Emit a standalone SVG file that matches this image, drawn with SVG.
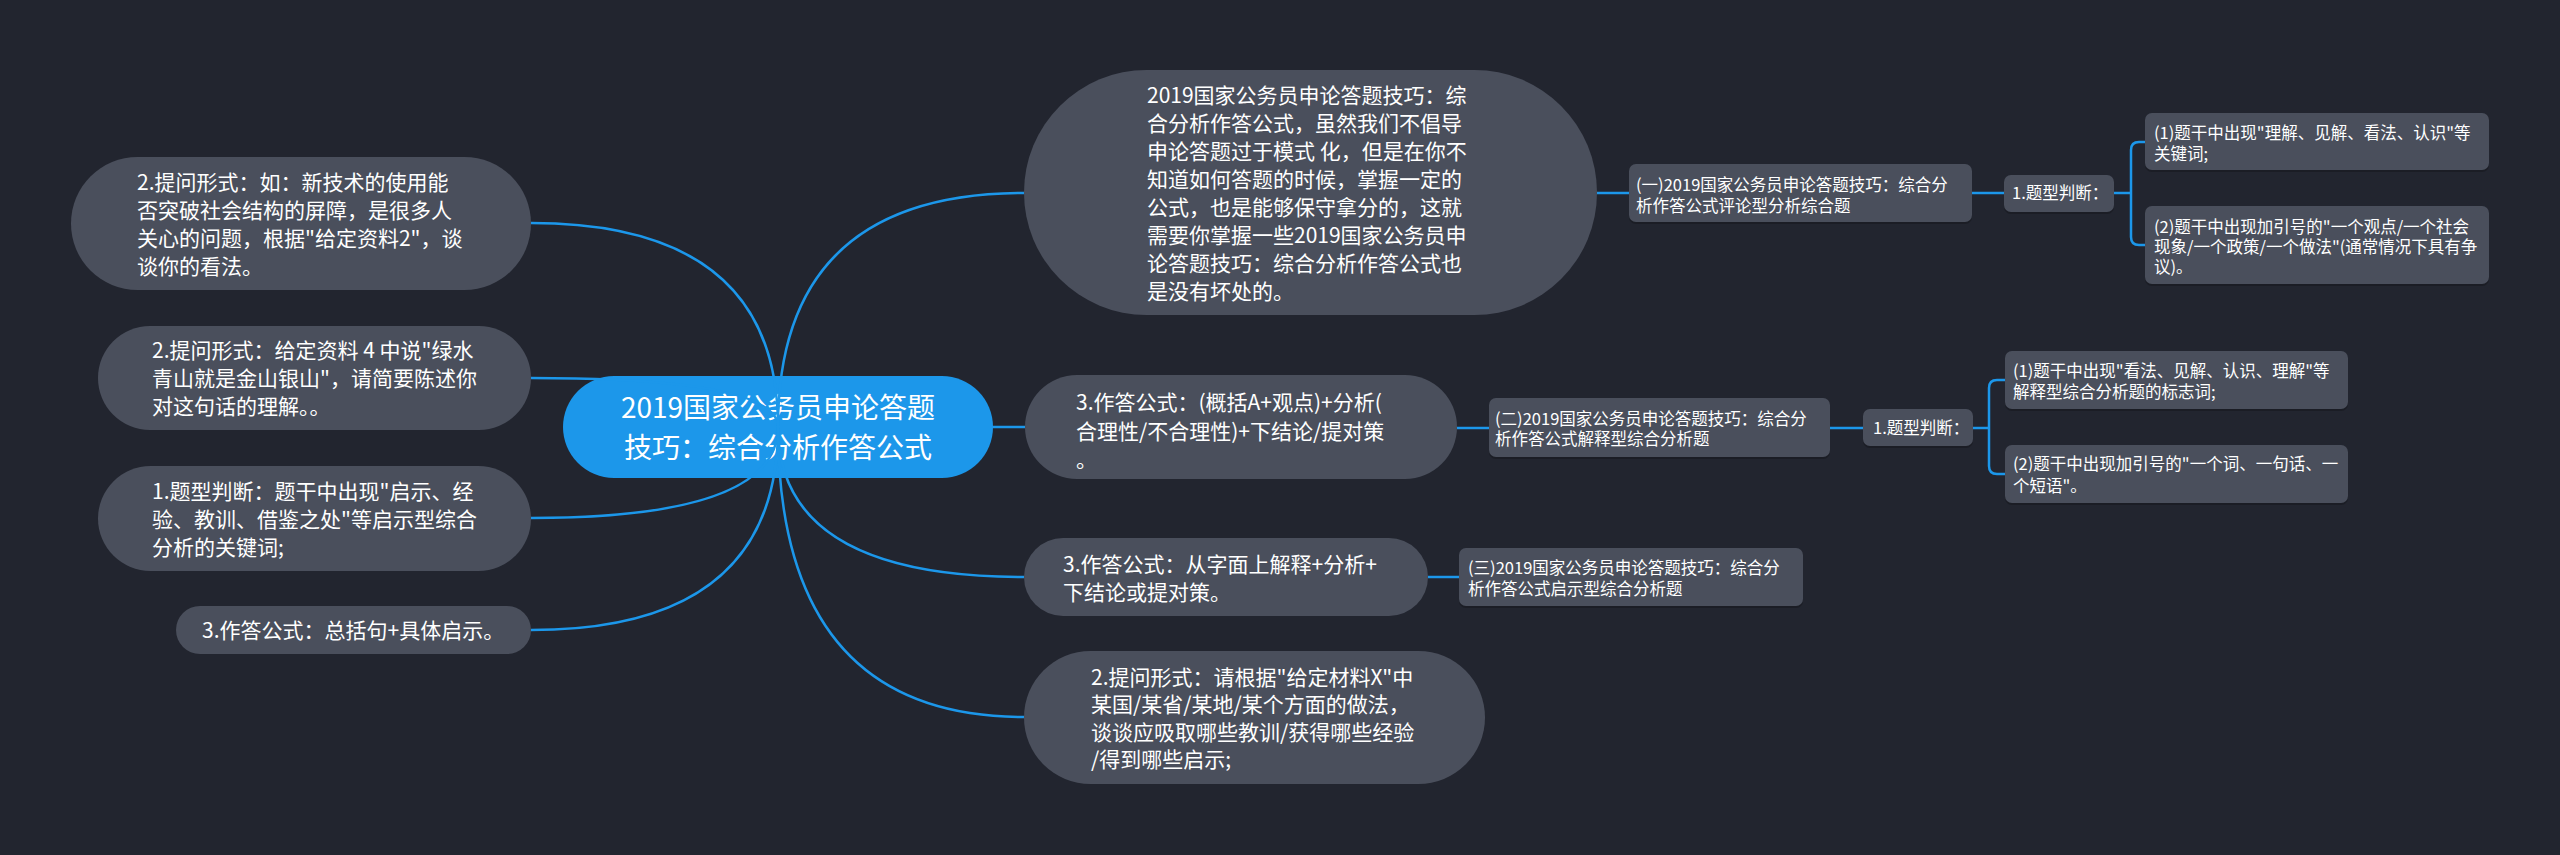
<svg xmlns="http://www.w3.org/2000/svg" width="2560" height="855" viewBox="0 0 2560 855">
<style>
.bg{fill:#22252f}
.node{fill:#4a4f5c}
.shadow{fill:#1b1d25}
.root{fill:#1c97ea}
.t{font-family:"Noto Sans CJK SC","Noto Sans",sans-serif;fill:#ffffff}
.t21{font-size:21px}
.t28{font-size:28px}
.t16{font-size:16.5px}
.link{fill:none;stroke:#1c97ea;stroke-width:2.5}
</style>
<rect class="bg" x="0" y="0" width="2560" height="855"/>

<g id="root">
<rect class="root" x="563" y="376" width="430" height="102" rx="51"/>
<text class="t t28" x="778" text-anchor="middle"><tspan x="778" y="418">2019国家公务员申论答题</tspan><tspan x="778" y="458">技巧：综合分析作答公式</tspan></text>
</g>

<g id="connectors">
<path class="link" d="M778 427 Q778 223 531 223"/>
<path class="link" d="M778 427 Q778 378 531 378"/>
<path class="link" d="M778 427 Q778 518 531 518"/>
<path class="link" d="M778 427 Q778 630 531 630"/>
<path class="link" d="M778 427 Q778 193 1024 193"/>
<path class="link" d="M778 427 Q900 427 1025 427"/>
<path class="link" d="M778 427 Q778 577 1024 577"/>
<path class="link" d="M778 427 Q778 717 1024 717"/>
<path class="link" d="M1597 193 L1629 193"/>
<path class="link" d="M1972 193 L2004 193"/>
<path class="link" d="M2114 193 L2131 193"/>
<path class="link" d="M2145 142 L2139 142 Q2131 142 2131 150 L2131 237 Q2131 245 2139 245 L2145 245"/>
<path class="link" d="M1457 428 L1489 428"/>
<path class="link" d="M1830 428 L1863 428"/>
<path class="link" d="M1973 428 L1989 428"/>
<path class="link" d="M2005 380 L1997 380 Q1989 380 1989 388 L1989 466 Q1989 474 1997 474 L2005 474"/>
<path class="link" d="M1428 577 L1459 577"/>
</g>

<g id="L1">
<rect class="node" x="71" y="157" width="460" height="133" rx="66.5"/>
<text class="t t21"><tspan x="137" y="189.5">2.提问形式：如：新技术的使用能</tspan><tspan x="137" y="217.5">否突破社会结构的屏障，是很多人</tspan><tspan x="137" y="245.5">关心的问题，根据"给定资料2"，谈</tspan><tspan x="137" y="273.5">谈你的看法。</tspan></text>
</g>
<g id="L2">
<rect class="node" x="98" y="326" width="433" height="104" rx="52"/>
<text class="t t21"><tspan x="152" y="357.5">2.提问形式：给定资料 4 中说"绿水</tspan><tspan x="152" y="385.5">青山就是金山银山"，请简要陈述你</tspan><tspan x="152" y="413.5">对这句话的理解。。</tspan></text>
</g>
<g id="L3">
<rect class="node" x="98" y="466" width="433" height="105" rx="52.5"/>
<text class="t t21"><tspan x="152" y="498.5">1.题型判断：题干中出现"启示、经</tspan><tspan x="152" y="526.5">验、教训、借鉴之处"等启示型综合</tspan><tspan x="152" y="554.5">分析的关键词;</tspan></text>
</g>
<g id="L4">
<rect class="node" x="176" y="606" width="355" height="48" rx="24"/>
<text class="t t21"><tspan x="202" y="637.5">3.作答公式：总括句+具体启示。</tspan></text>
</g>

<g id="R1">
<rect class="node" x="1024" y="70" width="573" height="245" rx="122.5"/>
<text class="t t21"><tspan x="1147" y="102.5">2019国家公务员申论答题技巧：综</tspan><tspan x="1147" y="130.5">合分析作答公式，虽然我们不倡导</tspan><tspan x="1147" y="158.5">申论答题过于模式 化，但是在你不</tspan><tspan x="1147" y="186.5">知道如何答题的时候，掌握一定的</tspan><tspan x="1147" y="214.5">公式，也是能够保守拿分的，这就</tspan><tspan x="1147" y="242.5">需要你掌握一些2019国家公务员申</tspan><tspan x="1147" y="271">论答题技巧：综合分析作答公式也</tspan><tspan x="1147" y="299">是没有坏处的。</tspan></text>
</g>
<g id="R2">
<rect class="node" x="1025" y="375" width="432" height="104" rx="52"/>
<text class="t t21"><tspan x="1076" y="410">3.作答公式：(概括A+观点)+分析(</tspan><tspan x="1076" y="438.5">合理性/不合理性)+下结论/提对策</tspan><tspan x="1076" y="467">。</tspan></text>
</g>
<g id="R3">
<rect class="node" x="1024" y="538" width="404" height="78" rx="39"/>
<text class="t t21"><tspan x="1063" y="571.5">3.作答公式：从字面上解释+分析+</tspan><tspan x="1063" y="599.5">下结论或提对策。</tspan></text>
</g>
<g id="R4">
<rect class="node" x="1024" y="651" width="461" height="133" rx="66.5"/>
<text class="t t21"><tspan x="1091" y="684.5">2.提问形式：请根据"给定材料X"中</tspan><tspan x="1091" y="711.5">某国/某省/某地/某个方面的做法，</tspan><tspan x="1091" y="739.5">谈谈应吸取哪些教训/获得哪些经验</tspan><tspan x="1091" y="766.5">/得到哪些启示;</tspan></text>
</g>

<g id="S1">
<rect class="shadow" x="1629" y="166" width="343" height="58" rx="7"/>
<rect class="node" x="1629" y="164" width="343" height="58" rx="7"/>
<text class="t t16"><tspan x="1636" y="191">(一)2019国家公务员申论答题技巧：综合分</tspan><tspan x="1636" y="212">析作答公式评论型分析综合题</tspan></text>
</g>
<g id="S1a">
<rect class="shadow" x="2004" y="177" width="110" height="37" rx="7"/>
<rect class="node" x="2004" y="175" width="110" height="37" rx="7"/>
<text class="t t16"><tspan x="2012" y="199">1.题型判断：</tspan></text>
</g>
<g id="S1a1">
<rect class="shadow" x="2145" y="115" width="344" height="57" rx="7"/>
<rect class="node" x="2145" y="113" width="344" height="57" rx="7"/>
<text class="t t16"><tspan x="2154" y="139">(1)题干中出现"理解、见解、看法、认识"等</tspan><tspan x="2154" y="159.5">关键词;</tspan></text>
</g>
<g id="S1a2">
<rect class="shadow" x="2145" y="208" width="344" height="78" rx="7"/>
<rect class="node" x="2145" y="206" width="344" height="78" rx="7"/>
<text class="t t16"><tspan x="2154" y="233">(2)题干中出现加引号的"一个观点/一个社会</tspan><tspan x="2154" y="253">现象/一个政策/一个做法"(通常情况下具有争</tspan><tspan x="2154" y="273">议)。</tspan></text>
</g>

<g id="S2">
<rect class="shadow" x="1489" y="400" width="341" height="59" rx="7"/>
<rect class="node" x="1489" y="398" width="341" height="59" rx="7"/>
<text class="t t16"><tspan x="1495" y="424.5">(二)2019国家公务员申论答题技巧：综合分</tspan><tspan x="1495" y="445">析作答公式解释型综合分析题</tspan></text>
</g>
<g id="S2a">
<rect class="shadow" x="1863" y="411" width="110" height="37" rx="7"/>
<rect class="node" x="1863" y="409" width="110" height="37" rx="7"/>
<text class="t t16"><tspan x="1873" y="434">1.题型判断：</tspan></text>
</g>
<g id="S2a1">
<rect class="shadow" x="2005" y="353" width="343" height="58" rx="7"/>
<rect class="node" x="2005" y="351" width="343" height="58" rx="7"/>
<text class="t t16"><tspan x="2013" y="377">(1)题干中出现"看法、见解、认识、理解"等</tspan><tspan x="2013" y="398">解释型综合分析题的标志词;</tspan></text>
</g>
<g id="S2a2">
<rect class="shadow" x="2005" y="447" width="343" height="58" rx="7"/>
<rect class="node" x="2005" y="445" width="343" height="58" rx="7"/>
<text class="t t16"><tspan x="2013" y="470">(2)题干中出现加引号的"一个词、一句话、一</tspan><tspan x="2013" y="492">个短语"。</tspan></text>
</g>

<g id="S3">
<rect class="shadow" x="1459" y="550" width="344" height="58" rx="7"/>
<rect class="node" x="1459" y="548" width="344" height="58" rx="7"/>
<text class="t t16"><tspan x="1468" y="574">(三)2019国家公务员申论答题技巧：综合分</tspan><tspan x="1468" y="594.5">析作答公式启示型综合分析题</tspan></text>
</g>
</svg>
